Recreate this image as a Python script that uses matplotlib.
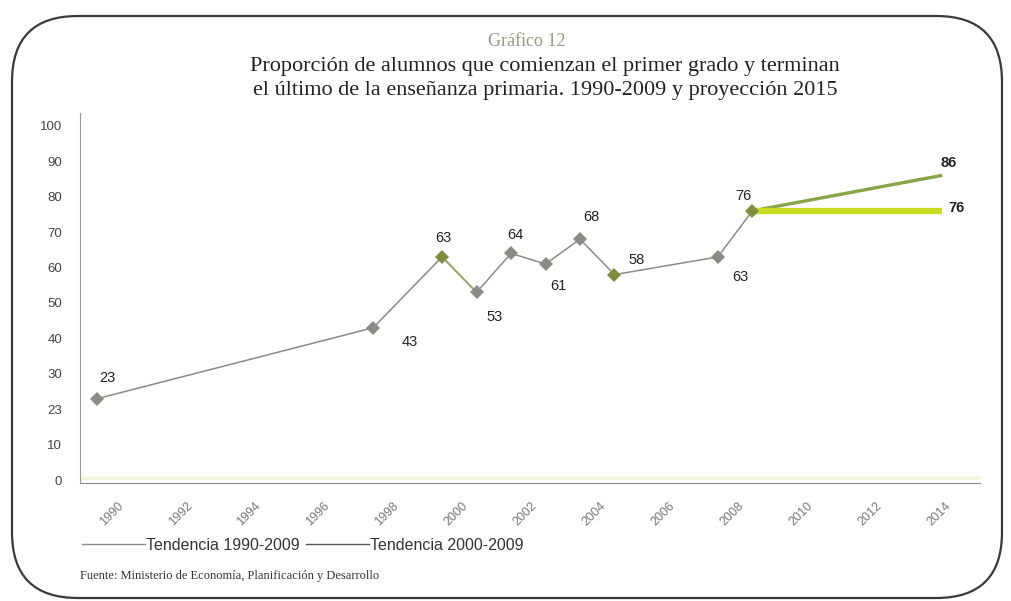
import matplotlib
matplotlib.use("Agg")

import matplotlib.pyplot as plt
from matplotlib.lines import Line2D
from matplotlib.patches import FancyBboxPatch

# Completion rate series (percent of pupils)
years = [1990, 1998, 2000, 2001, 2002, 2003, 2004, 2005, 2008, 2009]
values = [23, 43, 63, 53, 64, 61, 68, 58, 63, 76]
# marker tint per point (some points were highlighted in green)
highlight = [False, False, True, False, False, False, False, True, False, True]

# Projections from the last observed value
proj_years = [2009, 2014.5]
trend_1990_2009 = [76, 86]
trend_2000_2009 = [76, 76]

ytick_values = [0, 10, 20, 30, 40, 50, 60, 70, 80, 90, 100]
ytick_labels = ["0", "10", "23", "30", "40", "50", "60", "70", "80", "90", "100"]
xtick_years = list(range(1990, 2015, 2))
xtick_labels = ["1990", "1992", "1994", "1996", "1998", "2000", "2002",
                "2004", "2006", "2008", "2010", "2012", "2014"]

# label offsets in pixels (dx, dy) relative to each point
label_offsets = [(10, 21), (37, -14), (1, 19), (18, -25), (4, 18), (13, -22),
                 (11, 22), (22, 15), (22, -20), (-9, 15)]

W, H = 1012, 601
fig = plt.figure(figsize=(W / 100, H / 100), dpi=100)
fig.patch.set_facecolor("white")

# rounded frame around the whole graphic
frame = FancyBboxPatch((12 / W, 3 / H), (W - 22) / W, (H - 19) / H,
                       boxstyle="round,pad=0,rounding_size=0.065",
                       transform=fig.transFigure, fill=False,
                       edgecolor="#3a3a3a", linewidth=1.6,
                       mutation_aspect=W / H)
fig.patches.append(frame)

ax = fig.add_axes([80 / W, 118 / H, 900 / W, 370 / H])
ax.set_xlim(1989.5, 2015.6)
ax.set_ylim(-0.8, 103.6)

gray = "#8a8a86"
olive = "#7e8f3e"

# trend lines
ax.plot(proj_years, trend_1990_2009, color="#8aa448", linewidth=2.4,
        solid_capstyle="butt", zorder=2)
ax.plot(proj_years, trend_2000_2009, color="#c9dc22", linewidth=4.5,
        solid_capstyle="butt", zorder=2)

# observed series
ax.plot(years, values, color=gray, linewidth=1.1, zorder=3)
ax.plot(years[2:4], values[2:4], color="#9aa86a", linewidth=1.3, zorder=3)
for x, y, hl in zip(years, values, highlight):
    ax.plot(x, y, marker="D", markersize=7,
            color=olive if hl else gray, markeredgewidth=0, zorder=4)

px = 0.72  # points per pixel at 100 dpi
label_font = dict(family="Liberation Sans", fontsize=10.5, color="#222222",
                  ha="center", va="center")
for x, y, (dx, dy) in zip(years, values, label_offsets):
    ax.annotate(str(y), (x, y), xytext=(dx * px, dy * px),
                textcoords="offset points", **label_font)

ax.annotate(str(trend_1990_2009[-1]), (proj_years[-1], trend_1990_2009[-1]),
            xytext=(7 * px, 12 * px), textcoords="offset points",
            fontweight="bold", **label_font)
ax.annotate(str(trend_2000_2009[-1]), (proj_years[-1], trend_2000_2009[-1]),
            xytext=(14 * px, 3 * px), textcoords="offset points",
            fontweight="bold", **label_font)

# axes styling
for side in ["top", "right"]:
    ax.spines[side].set_visible(False)
ax.spines["left"].set_color("#9a9a9a")
ax.spines["bottom"].set_color("#8c8c8c")
ax.axhline(0.7, color="#f3f6d8", linewidth=2.5, zorder=1)

ax.set_yticks(ytick_values)
ax.set_yticklabels(ytick_labels, family="Liberation Sans", fontsize=9.5,
                   color="#444444")
ax.set_xticks(xtick_years)
ax.set_xticklabels(xtick_labels, family="Liberation Sans", fontsize=9,
                   color="#777777", rotation=45, ha="left", va="top")
ax.tick_params(axis="y", length=0, pad=13)
ax.tick_params(axis="x", length=0, pad=12)

# titles
fig.text(527 / W, 1 - 42 / H, "Gráfico 12", family="Liberation Serif",
         fontsize=13, color="#8fa080", ha="center", va="center")
fig.text(545 / W, 1 - 66 / H,
         "Proporción de alumnos que comienzan el primer grado y terminan",
         family="Liberation Serif", fontsize=16, color="#222222",
         ha="center", va="center")
fig.text(545 / W, 1 - 91 / H,
         "el último de la enseñanza primaria. 1990-2009 y proyección 2015",
         family="Liberation Serif", fontsize=16, color="#222222",
         ha="center", va="center")

# legend (drawn with thin gray lines)
handles = [Line2D([], [], color="#8a8a8a", linewidth=1),
           Line2D([], [], color="#555555", linewidth=1)]
fig.legend(handles, ["Tendencia 1990-2009", "Tendencia 2000-2009"],
           loc="center left", bbox_to_anchor=(68 / W, 1 - 545 / H), ncol=2,
           frameon=False, handlelength=3.9, handletextpad=0.1,
           columnspacing=0.4, prop={"family": "Liberation Sans", "size": 11.5},
           labelcolor="#333333")

fig.text(80 / W, 1 - 576 / H,
         "Fuente: Ministerio de Economía, Planificación y Desarrollo",
         family="Liberation Serif", fontsize=9, color="#333333",
         ha="left", va="center")

fig.savefig("out.png", dpi=100)
